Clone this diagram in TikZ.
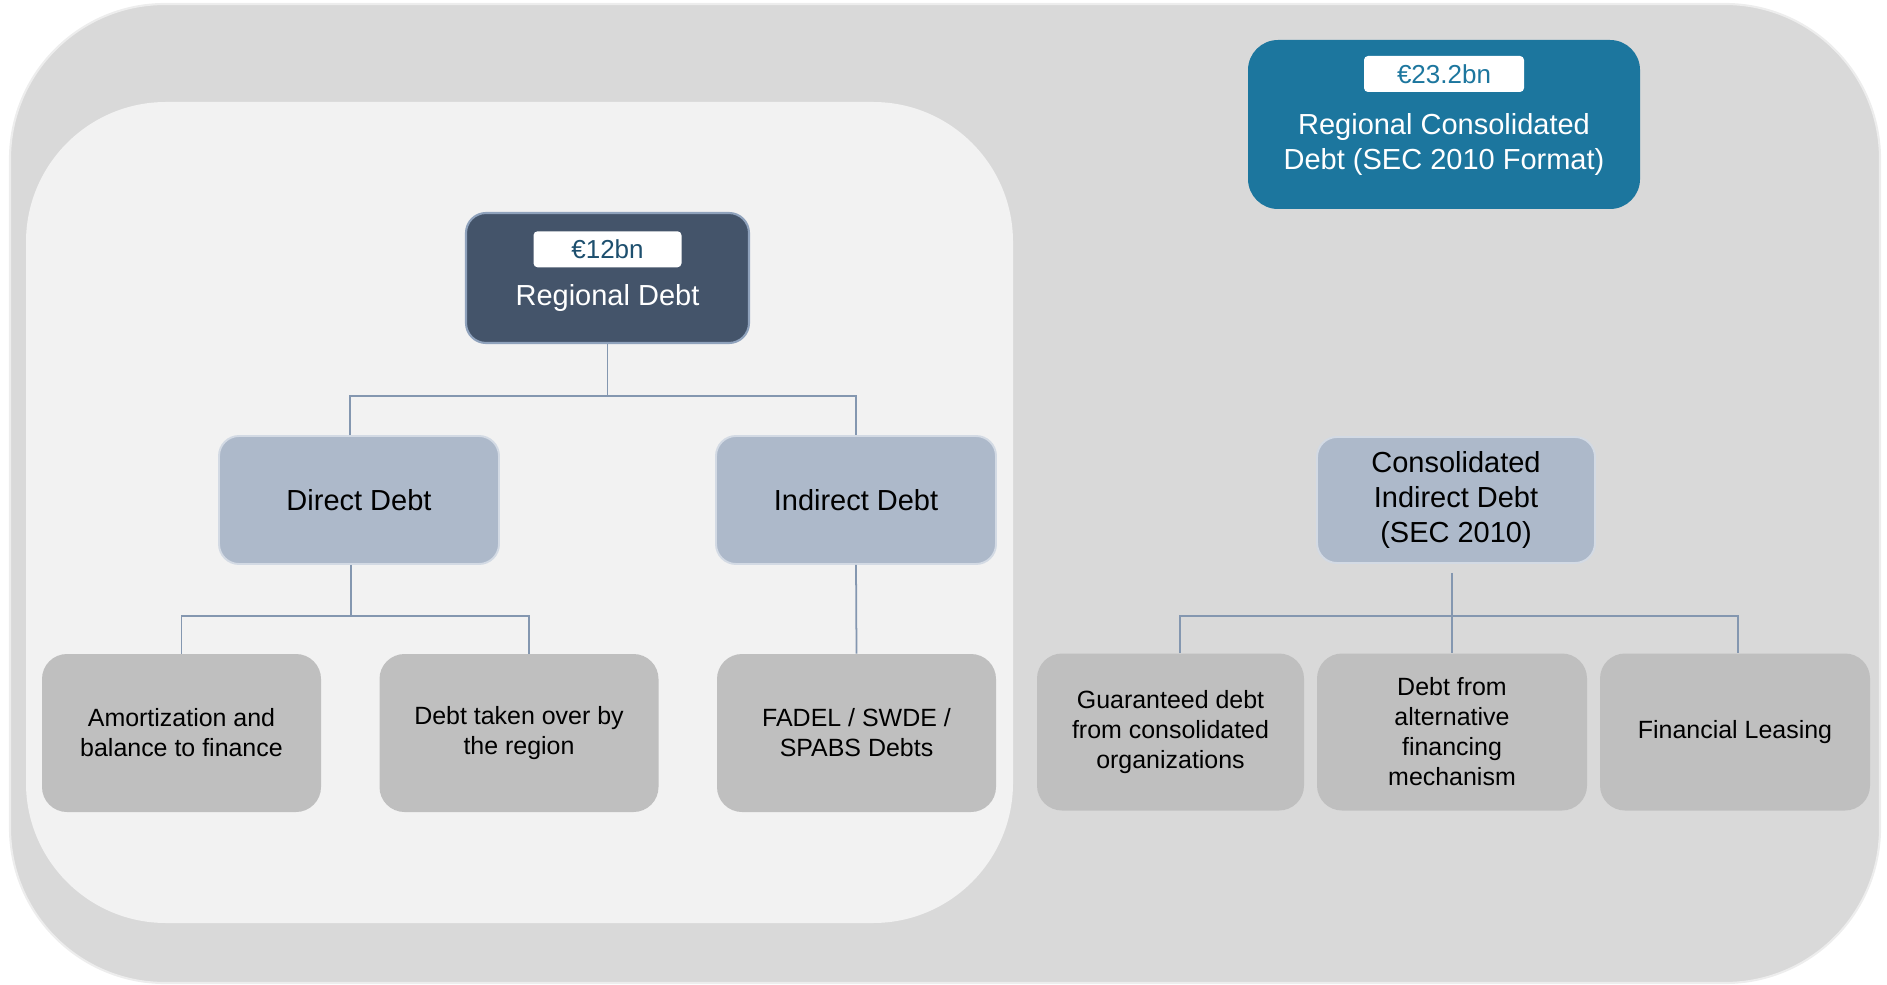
\documentclass[tikz,border=0pt]{standalone}
\usepackage{fontspec}
\setmainfont{Liberation Sans}
\usepackage{xcolor}
\usepackage{tikz}
\usetikzlibrary{positioning, calc}

\definecolor{outerbg}{HTML}{D9D9D9}
\definecolor{outeredge}{HTML}{EDEDED}
\definecolor{innerbg}{HTML}{F2F2F2}
\definecolor{slatefill}{HTML}{44546A}
\definecolor{slateedge}{HTML}{8FA2BC}
\definecolor{secblue}{HTML}{1C769E}
\definecolor{midfill}{HTML}{ADB9CA}
\definecolor{midedge}{HTML}{D3DAE4}
\definecolor{leaffill}{HTML}{BFBFBF}
\definecolor{linkcol}{HTML}{8497B0}
\definecolor{valdark}{HTML}{1D4F6E}

\begin{document}
\begin{tikzpicture}[
    font=\fontsize{16.5}{19.9}\selectfont,
    topbox/.style={rounded corners=0.4cm, fill=slatefill, draw=slateedge, line width=1.2pt,
                   minimum width=5.66cm, minimum height=2.6cm},
    secbox/.style={rounded corners=0.6cm, fill=secblue,
                   minimum width=7.84cm, minimum height=3.38cm},
    badge/.style={rounded corners=0.08cm, fill=white, minimum height=0.72cm,
                  font=\fontsize{14.8}{17}\selectfont},
    midbox/.style={rounded corners=0.4cm, fill=midfill, draw=midedge, line width=1.1pt,
                   minimum width=5.6cm, minimum height=2.56cm, align=center},
    leafbox/.style={rounded corners=0.5cm, fill=leaffill, minimum width=5.58cm,
                    minimum height=3.16cm, align=center, font=\fontsize{14.2}{17.1}\selectfont},
    link/.style={draw=linkcol, line width=1pt}
]

    \useasboundingbox (0,0) rectangle (37.74,19.68);

    % ================= Background panels =================
    \fill[outerbg, draw=outeredge, line width=1.2pt, rounded corners=3.1cm]
        (0.2,0.02) rectangle (37.6,19.6);
    \fill[innerbg, rounded corners=2.8cm] (0.52,1.22) rectangle (20.26,17.64);

    % ================= Top boxes =================
    \node[topbox] (RD) at (12.15, 14.12) {};
    \node[badge, minimum width=2.96cm, text=valdark, below=0.38cm of RD.north] (RDval) {€12bn};
    \node[text=white] (RDname) at ([yshift=-0.4cm]RD.center) {Regional Debt};

    \node[secbox] (RCD) at (28.88, 17.19) {};
    \node[badge, minimum width=3.2cm, text=secblue, below=0.32cm of RCD.north] (RCDval) {€23.2bn};
    \node[text=white, align=center] (RCDname) at ([yshift=-0.4cm]RCD.center)
        {Regional Consolidated\\Debt (SEC 2010 Format)};

    % ================= Middle level =================
    \node[midbox] (DD) at (7.18, 9.68) {Direct Debt};
    \node[midbox] (ID) at (17.12, 9.68) {Indirect Debt};
    \node[midbox, minimum width=5.56cm, minimum height=2.52cm]
        (CI) at (29.12, 9.68) {Consolidated\\Indirect Debt\\(SEC 2010)};

    % ================= Bottom level =================
    \node[leafbox] (AB) at (3.63, 5.02) {Amortization and\\balance to finance};
    \node[leafbox] (TR) at (10.38, 5.02) {Debt taken over by\\the region};
    \node[leafbox] (FS) at (17.13, 5.02) {FADEL / SWDE /\\SPABS Debts};

    \node[leafbox, minimum width=5.34cm, minimum height=3.14cm] (GD) at (23.41, 5.04)
        {Guaranteed debt\\from consolidated\\organizations};
    \node[leafbox, minimum width=5.4cm, minimum height=3.14cm] (DF) at (29.04, 5.04)
        {Debt from\\alternative\\financing\\mechanism};
    \node[leafbox, minimum width=5.4cm, minimum height=3.14cm] (FL) at (34.7, 5.04)
        {Financial Leasing};

    % ================= Connectors =================
    % Regional Debt -> Direct / Indirect
    \draw[link] (RD.south) -- ++(0,-1.04) coordinate (rdbus);
    \draw[link] ([xshift=-0.18cm]DD.north) |- (rdbus) -| (ID.north);

    % Direct Debt -> its two parts
    \draw[link] ([xshift=-0.16cm]DD.south) -- ++(0,-1.02) coordinate (ddbus);
    \draw[link] (AB.north) |- (ddbus) -| ([xshift=0.2cm]TR.north);

    % Indirect Debt -> FADEL / SWDE / SPABS
    \draw[link] (ID.south) -- (FS.north);

    % Consolidated Indirect Debt -> three parts
    \coordinate (cibus) at ($(DF.north |- CI.south)+(0,-1.04)$);
    \draw[link] ($(DF.north |- CI.south)+(0,-0.18)$) -- (DF.north);
    \draw[link] ([xshift=0.19cm]GD.north) |- (cibus) -| ([xshift=0.06cm]FL.north);

\end{tikzpicture}
\end{document}
